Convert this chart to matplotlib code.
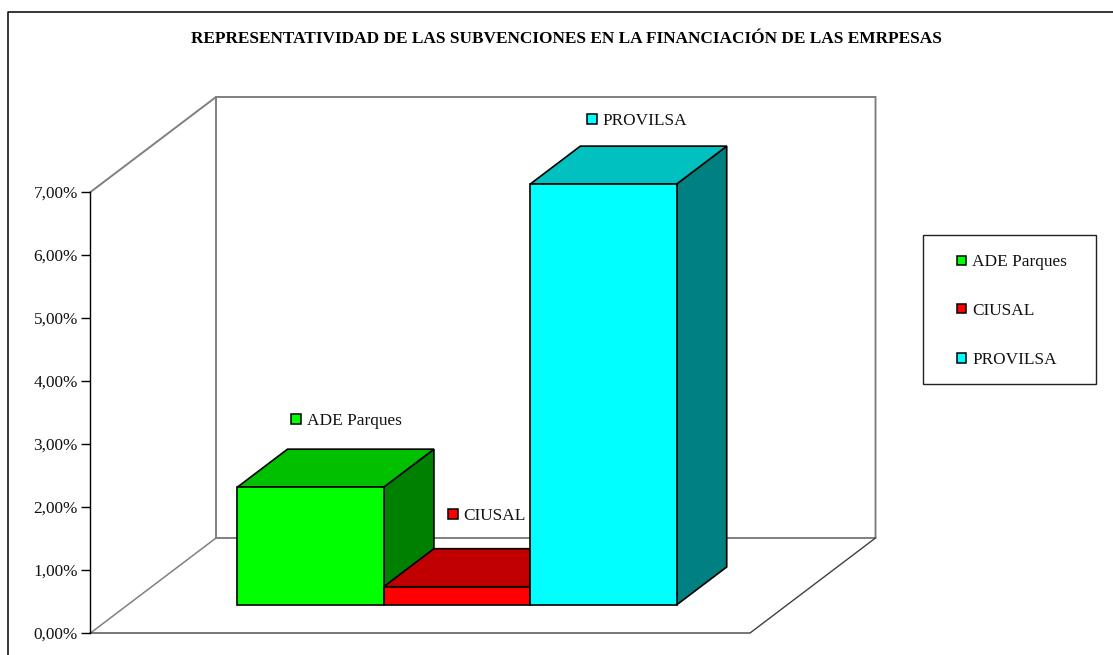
import matplotlib
matplotlib.use("Agg")
import matplotlib.pyplot as plt
from matplotlib.patches import Polygon, Rectangle

# Data
empresas = ["ADE Parques", "CIUSAL", "PROVILSA"]
valores = [1.87, 0.29, 6.68]
colores = ["#00ff00", "#ff0000", "#00ffff"]
colores_top = ["#00c000", "#c00000", "#00c0c0"]
colores_lado = ["#008000", "#800000", "#008080"]
yticks = [0, 1, 2, 3, 4, 5, 6, 7]
yticklabels = ["0,00%", "1,00%", "2,00%", "3,00%", "4,00%", "5,00%", "6,00%", "7,00%"]
titulo = "REPRESENTATIVIDAD DE LAS SUBVENCIONES EN LA FINANCIACIÓN DE LAS EMRPESAS"

W, H = 1113, 655
PX_X = 146.4   # pixels per bar width
PX_Y = 63.0    # pixels per 1%
X0, Y0 = 90.5, 633.0

plt.rcParams["font.family"] = ["Liberation Serif", "DejaVu Serif"]
fig = plt.figure(figsize=(W / 100, H / 100), dpi=100)
ax = fig.add_axes([0, 0, 1, 1])
ax.set_xlim(-X0 / PX_X, (W - X0) / PX_X)
ax.set_ylim(-(H - Y0) / PX_Y, Y0 / PX_Y)
for s in ["top", "right", "bottom"]:
    ax.spines[s].set_visible(False)
ax.patch.set_visible(False)

# value axis
ax.spines["left"].set_position(("data", 0))
ax.spines["left"].set_bounds(0, 7)
ax.spines["left"].set_linewidth(1.0)
ax.set_xticks([])
ax.set_yticks(yticks)
ax.set_yticklabels(yticklabels, fontsize=12.4, color="#111111")
ax.tick_params(axis="y", direction="out", length=6.5, width=1.0, pad=2.5)

# depth of the whole floor, in axis units
fondo_x = 125.5 / PX_X
fondo_y = 95 / PX_Y
ancho = 659.5 / PX_X
gris = "#808080"


def depth(x, y, d):
    return (x + fondo_x * d, y + fondo_y * d)


# walls and floor
ax.plot([0, fondo_x, fondo_x, ancho + fondo_x, ancho + fondo_x],
        [7, 7 + fondo_y, fondo_y, fondo_y, 7 + fondo_y], color=gris, lw=1.4, zorder=1)
ax.plot([fondo_x, fondo_x + ancho], [7 + fondo_y, 7 + fondo_y], color=gris, lw=1.4, zorder=1)
ax.plot([0, fondo_x], [0, fondo_y], color=gris, lw=1.1, zorder=1)
ax.plot([0, ancho, ancho + fondo_x], [0, 0, fondo_y], color="#404040", lw=1.0, zorder=1)

# label offset from the bar's top front corner, pixels
etiqueta_dx = [59, 69, 62]
etiqueta_dy = [68, 73, 65]

# bars, left to right
d0, d1 = 0.295, 0.695
for i, (nombre, v) in enumerate(zip(empresas, valores)):
    x0 = 0.75 + i
    x1 = x0 + 1
    frente = [depth(x0, 0, d0), depth(x1, 0, d0), depth(x1, v, d0), depth(x0, v, d0)]
    arriba = [depth(x0, v, d0), depth(x1, v, d0), depth(x1, v, d1), depth(x0, v, d1)]
    lado = [depth(x1, 0, d0), depth(x1, 0, d1), depth(x1, v, d1), depth(x1, v, d0)]
    z = 3 + i
    ax.add_patch(Polygon(lado, closed=True, fc=colores_lado[i], ec="black", lw=1.2, zorder=z))
    ax.add_patch(Polygon(arriba, closed=True, fc=colores_top[i], ec="black", lw=1.2, zorder=z))
    ax.add_patch(Polygon(frente, closed=True, fc=colores[i], ec="black", lw=1.2, zorder=z))

    # label above the bar
    lx, ly = depth(x0, v, d0)
    lx += etiqueta_dx[i] / PX_X
    ly += etiqueta_dy[i] / PX_Y
    ax.plot([lx], [ly], marker="s", ms=6.8, mfc=colores[i], mec="black", mew=1.1, ls="none", zorder=8)
    ax.text(lx + 10.5 / PX_X, ly, nombre, fontsize=12.4, va="center_baseline", ha="left", color="#111111", zorder=8)

ax.text(0.5085, 1 - 39 / H, titulo, transform=ax.transAxes, ha="center", va="center",
        fontsize=12.4, fontweight="bold", color="black")

# legend box
trans = fig.transFigure
fig.add_artist(Rectangle((923 / W, 1 - 384 / H), 173 / W, 149 / H, transform=trans,
                         fc="white", ec="#222222", lw=1.0))
leg_y = [260.5, 309, 358]
for nombre, c, py in zip(empresas, colores, leg_y):
    fig.add_artist(Rectangle((956.5 / W, 1 - (py + 4.5) / H), 9.5 / W, 9.5 / H, transform=trans,
                             fc=c, ec="black", lw=1.1))
    fig.text(972 / W, 1 - py / H, nombre, fontsize=12.4, va="center_baseline", ha="left", color="#111111")

# outer frame, cut by the page
fig.add_artist(plt.Line2D([8 / W, 8 / W, 1], [0, 1 - 12 / H, 1 - 12 / H],
                          transform=trans, color="black", lw=1.1))

fig.savefig("out.png", dpi=100, facecolor="white")
